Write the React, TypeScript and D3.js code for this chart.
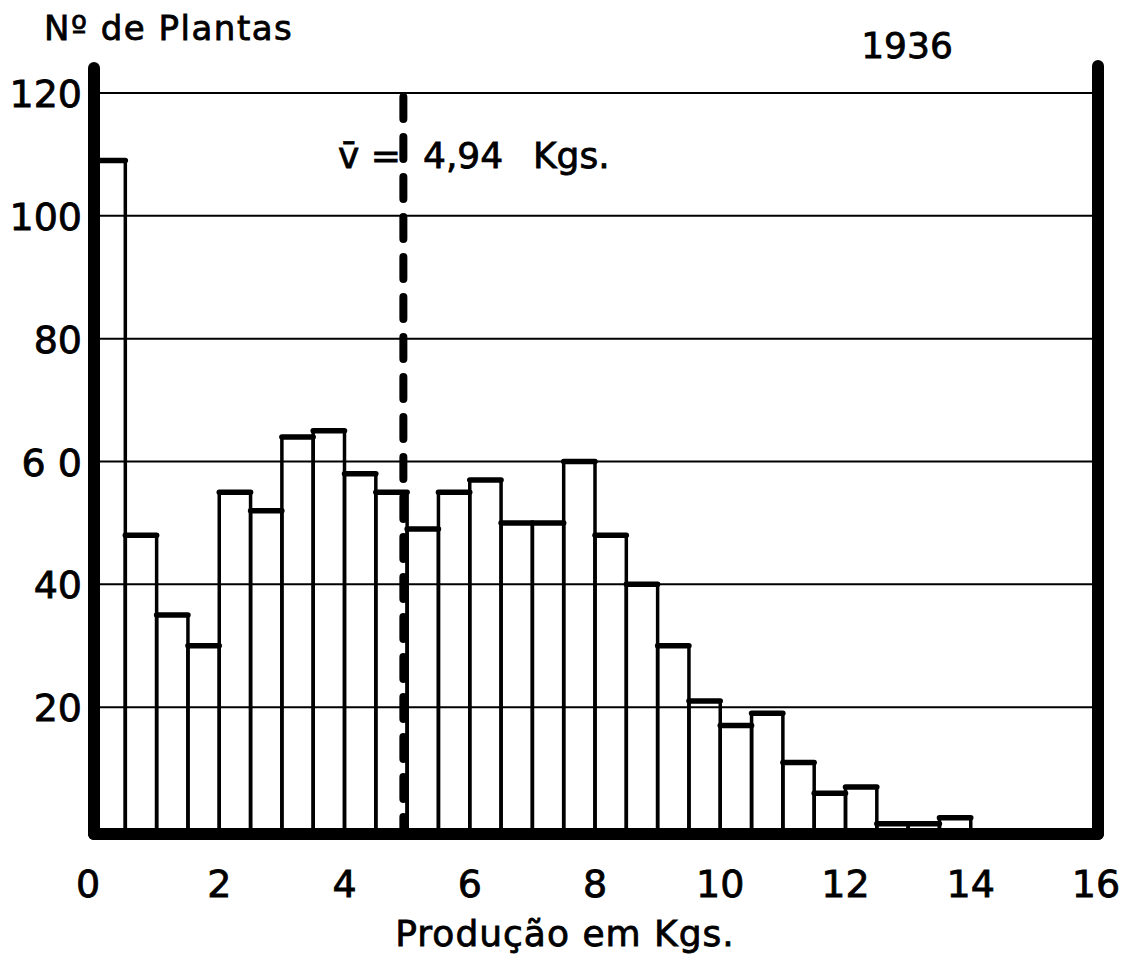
import React, { useEffect, useRef } from 'react'
import * as d3 from 'd3'

// histogram of plant yield, 1936 (bins of 0.5 kg)
const binStarts = [
  0, 0.5, 1, 1.5, 2, 2.5, 3, 3.5, 4, 4.5, 5, 5.5, 6, 6.5, 7, 7.5,
  8, 8.5, 9, 9.5, 10, 10.5, 11, 11.5, 12, 12.5, 13, 13.5, 14, 14.5, 15, 15.5
]
const plantCounts = [
  109, 48, 35, 30, 55, 52, 64, 65, 58, 55, 49, 55, 57, 50, 50, 60,
  48, 40, 30, 21, 17, 19, 11, 6, 7, 1, 1, 2, 0, 0, 0, 0
]
const binWidth = 0.5
const xTicks = [0, 2, 4, 6, 8, 10, 12, 14, 16]
const yTicks = [20, 40, 60, 80, 100, 120]
const yTickLabels = ['20', '40', '6 0', '80', '100', '120']
const meanValue = 4.94

const FONT = "'DejaVu Sans', sans-serif"

export default function App() {
  const svgRef = useRef<SVGSVGElement>(null)

  useEffect(() => {
    const svg = d3.select(svgRef.current)
    svg.selectAll('*').remove()

    const x = d3.scaleLinear().domain([0, 16]).range([94, 1096])
    const y = d3.scaleLinear().domain([0, 120]).range([830, 93])

    // horizontal grid
    svg.append('g')
      .selectAll('line')
      .data(yTicks)
      .join('line')
      .attr('x1', x(0))
      .attr('x2', x(16))
      .attr('y1', d => y(d))
      .attr('y2', d => y(d))
      .attr('stroke', '#000')
      .attr('stroke-width', 2)

    const bars = binStarts.map((b, i) => ({ x0: b, x1: b + binWidth, count: plantCounts[i] }))
      .filter(d => d.count > 0)

    // bar outlines
    svg.append('g')
      .selectAll('rect')
      .data(bars)
      .join('rect')
      .attr('x', d => x(d.x0))
      .attr('width', d => x(d.x1) - x(d.x0))
      .attr('y', d => y(d.count))
      .attr('height', d => y(0) - y(d.count))
      .attr('fill', 'none')
      .attr('stroke', '#000')
      .attr('stroke-width', 3.5)

    // heavier tops
    svg.append('g')
      .selectAll('line')
      .data(bars)
      .join('line')
      .attr('x1', d => x(d.x0))
      .attr('x2', d => x(d.x1))
      .attr('y1', d => y(d.count))
      .attr('y2', d => y(d.count))
      .attr('stroke', '#000')
      .attr('stroke-width', 5.5)
      .attr('stroke-linecap', 'round')

    // mean line
    svg.append('line')
      .attr('x1', x(meanValue))
      .attr('x2', x(meanValue))
      .attr('y1', y(120) + 4)
      .attr('y2', y(0))
      .attr('stroke', '#000')
      .attr('stroke-width', 8)
      .attr('stroke-dasharray', '22 18')
      .attr('stroke-linecap', 'round')

    // frame: left, right, bottom
    svg.append('line')
      .attr('x1', x(0)).attr('x2', x(0))
      .attr('y1', 68).attr('y2', y(0) + 4)
      .attr('stroke', '#000').attr('stroke-width', 12).attr('stroke-linecap', 'round')
    svg.append('line')
      .attr('x1', x(16) + 2).attr('x2', x(16) + 2)
      .attr('y1', 66).attr('y2', y(0) + 4)
      .attr('stroke', '#000').attr('stroke-width', 12).attr('stroke-linecap', 'round')
    svg.append('line')
      .attr('x1', x(0)).attr('x2', x(16) + 2)
      .attr('y1', y(0) + 4).attr('y2', y(0) + 4)
      .attr('stroke', '#000').attr('stroke-width', 12).attr('stroke-linecap', 'round')

    // y tick labels
    svg.append('g')
      .selectAll('text')
      .data(yTicks)
      .join('text')
      .attr('x', 82)
      .attr('y', d => y(d) + 14)
      .attr('text-anchor', 'end')
      .attr('font-family', FONT)
      .attr('font-size', 38)
      .attr('stroke', '#000')
      .attr('stroke-width', 0.8)
      .attr('xml:space', 'preserve')
      .style('white-space', 'pre')
      .text((d, i) => yTickLabels[i])

    // x tick labels
    svg.append('g')
      .selectAll('text')
      .data(xTicks)
      .join('text')
      .attr('x', d => x(d) - (d === 0 ? 6 : 0))
      .attr('y', 897)
      .attr('text-anchor', 'middle')
      .attr('font-family', FONT)
      .attr('font-size', 38)
      .attr('stroke', '#000')
      .attr('stroke-width', 0.8)
      .text(d => String(d))

    const label = (txt: string, tx: number, ty: number, size: number, anchor = 'start', spacing = 0) =>
      svg.append('text')
        .attr('x', tx)
        .attr('y', ty)
        .attr('text-anchor', anchor)
        .attr('font-family', FONT)
        .attr('font-size', size)
        .attr('letter-spacing', spacing)
        .attr('stroke', '#000')
        .attr('stroke-width', 0.8)
        .text(txt)

    label('Nº de Plantas', 44, 40, 34, 'start', 1.5)
    label('1936', 907, 58, 36, 'middle')
    label('Produção em Kgs.', 565, 946, 36, 'middle', 1)

    // mean annotation
    label('v̄ =', 338, 168, 36)
    label('4,94', 423, 168, 36)
    label('Kgs.', 533, 168, 36)
  }, [])

  return (
    <svg
      ref={svgRef}
      width={1129}
      height={970}
      style={{ position: 'absolute', left: 0, top: 0, background: '#fff' }}
    />
  )
}
